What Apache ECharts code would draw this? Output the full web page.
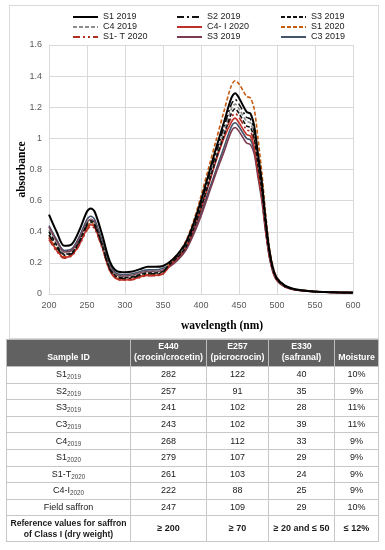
<!DOCTYPE html>
<html>
<head>
<meta charset="utf-8">
<script src="https://cdn.jsdelivr.net/npm/echarts@6/dist/echarts.min.js"></script>
<style>
  html, body { margin: 0; padding: 0; background: #fff; }
  body { width: 385px; height: 550px; position: relative; overflow: hidden; font-family: "Liberation Sans", Arial, sans-serif; }
  #chart { position: absolute; left: 0; top: 0; width: 385px; height: 340px; }
  #frame { position: absolute; left: 9px; top: 5px; width: 370px; height: 334px; border: 1px solid #d9d9d9; box-sizing: border-box; pointer-events: none; }
  table { position: absolute; left: 6px; top: 339px; width: 372px; border-collapse: collapse; table-layout: fixed; font-size: 9px; color: #1a1a1a; }
  td, th { border: 1px solid #c8c8c8; text-align: center; padding: 0; line-height: 11px; white-space: nowrap; overflow: visible; }
  th { background: #616161; color: #fff; font-weight: bold; font-size: 8.8px; height: 23px; vertical-align: bottom; padding-bottom: 3px; border-color: #bdbdbd; }
  td { height: 15.6px; }
  tr.ref td { font-weight: bold; height: 25px; }
  tr.ref td:first-child { font-size: 8.6px; }
  sub { font-size: 6.3px; vertical-align: -2px; color: #444; line-height: 0; }
</style>
</head>
<body>
<div id="chart"></div>
<div id="frame"></div>

<script>
// ---- data ----
const wavelengths = [200,210,220,230,240,250,255,260,270,280,290,300,310,320,330,340,350,
  360,370,380,390,400,410,420,430,440,445,450,460,465,470,475,480,485,490,495,500,510,520,530,550,575,600];

const S1_2019 = [.51,.40,.31,.32,.41,.53,.55,.53,.38,.21,.145,.14,.145,.16,.175,.175,.18,
  .21,.26,.33,.45,.60,.77,.94,1.10,1.26,1.29,1.26,1.17,1.16,1.08,.90,.72,.48,.28,.16,.10,.055,.035,.026,.016,.011,.009];
const S2_2019 = [.38,.30,.25,.26,.335,.44,.46,.44,.31,.16,.105,.10,.105,.12,.13,.13,.14,
  .205,.25,.32,.435,.58,.745,.91,1.07,1.22,1.25,1.22,1.135,1.125,1.045,.87,.70,.465,.27,.155,.097,.053,.034,.025,.016,.011,.009];
const S3_2019 = [.40,.315,.255,.265,.34,.45,.47,.45,.315,.165,.11,.105,.11,.125,.135,.135,.145,
  .195,.24,.30,.415,.555,.71,.87,1.015,1.16,1.19,1.16,1.08,1.07,1.00,.83,.665,.44,.26,.148,.092,.05,.032,.024,.015,.01,.008];
const C4_2019 = [.41,.325,.26,.27,.345,.455,.475,.455,.32,.17,.115,.11,.115,.13,.14,.14,.15,
  .20,.245,.31,.425,.57,.73,.89,1.04,1.19,1.22,1.19,1.11,1.10,1.02,.85,.68,.45,.265,.15,.095,.052,.033,.025,.015,.011,.009];
const C4I_2020 = [.36,.28,.235,.25,.32,.42,.445,.43,.30,.15,.095,.09,.095,.11,.12,.12,.13,
  .19,.235,.30,.41,.545,.70,.86,1.00,1.105,1.13,1.10,1.025,1.015,.945,.79,.63,.42,.245,.14,.088,.048,.031,.023,.014,.01,.008];
const S1_2020 = [.37,.29,.24,.255,.33,.43,.455,.44,.31,.16,.10,.095,.10,.115,.125,.125,.135,
  .21,.26,.34,.465,.63,.81,.99,1.17,1.34,1.37,1.35,1.27,1.26,1.19,1.00,.78,.52,.30,.17,.105,.057,.036,.027,.017,.012,.01];
const S1T_2020 = [.35,.275,.23,.245,.315,.41,.435,.42,.295,.15,.095,.088,.092,.107,.118,.118,.128,
  .19,.235,.30,.415,.555,.71,.87,1.02,1.135,1.16,1.135,1.055,1.045,.97,.81,.65,.43,.25,.145,.09,.05,.032,.024,.015,.01,.008];
const S3b_2019 = [.43,.34,.27,.28,.355,.46,.48,.46,.32,.175,.12,.115,.12,.135,.145,.145,.155,
  .18,.22,.28,.38,.50,.64,.78,.91,1.045,1.07,1.045,.97,.96,.90,.75,.60,.40,.235,.135,.085,.046,.03,.022,.014,.01,.008];
const C3_2019 = [.44,.35,.28,.29,.37,.48,.50,.48,.34,.19,.13,.125,.13,.145,.155,.155,.165,
  .19,.23,.29,.39,.52,.66,.80,.94,1.075,1.10,1.075,1.00,.99,.92,.77,.62,.41,.24,.14,.088,.048,.031,.023,.014,.01,.008];

const yTicks = { min: 0, max: 1.6, step: 0.2 };
const xTicks = { min: 200, max: 600, step: 50 };

// table data
const tableHeader = ['Sample ID', 'E440<br>(crocin/crocetin)', 'E257<br>(picrocrocin)', 'E330<br>(safranal)', 'Moisture'];
const sampleIds = ['S1<sub>2019</sub>','S2<sub>2019</sub>','S3<sub>2019</sub>','C3<sub>2019</sub>','C4<sub>2019</sub>','S1<sub>2020</sub>','S1-T<sub>2020</sub>','C4-I<sub>2020</sub>','Field saffron'];
const e440 = [282,257,241,243,268,279,261,222,247];
const e257 = [122,91,102,102,112,107,103,88,109];
const e330 = [40,35,28,39,33,29,24,25,29];
const moisture = ['10%','9%','11%','11%','9%','9%','9%','9%','10%'];
const refRow = ['Reference values for saffron<br>of Class I (dry weight)', '≥ 200', '≥ 70', '≥ 20 and ≤ 50', '≤ 12%'];

// ---- chart ----
function pairs(vals) { return wavelengths.map((w, i) => [w, vals[i]]); }

const seriesDefs = [
  { name: 'C3 2019', data: C3_2019, color: '#44546a', type: 'solid', width: 1.6 },
  { name: 'S3 2019 ', data: S3b_2019, color: '#7a3b50', type: 'solid', width: 1.6 },
  { name: 'S1- T 2020', data: S1T_2020, color: '#b03020', type: [7,3,2,3,2,3], width: 1.6 },
  { name: 'S1 2020', data: S1_2020, color: '#c55a11', type: [4,2], width: 1.6 },
  { name: 'C4- I 2020', data: C4I_2020, color: '#c0302a', type: 'solid', width: 1.6 },
  { name: 'C4 2019', data: C4_2019, color: '#8c8c8c', type: [4,2], width: 1.6 },
  { name: 'S3 2019', data: S3_2019, color: '#111111', type: [4,2], width: 1.6 },
  { name: 'S2 2019', data: S2_2019, color: '#111111', type: [7,3,2,3], width: 1.6 },
  { name: 'S1 2019', data: S1_2019, color: '#000000', type: 'solid', width: 2 }
];

const legendBase = {
  orient: 'vertical', top: 7, itemWidth: 25, itemHeight: 8, itemGap: 0,
  selectedMode: false,
  itemStyle: { opacity: 0, borderWidth: 0 },
  formatter: n => n.trim(),
  textStyle: { fontSize: 9, lineHeight: 10, color: '#222', fontFamily: 'Liberation Sans, Arial, sans-serif' }
};

const chart = echarts.init(document.getElementById('chart'), null, { renderer: 'canvas' });
chart.setOption({
  animation: false,
  backgroundColor: 'transparent',
  legend: [
    Object.assign({}, legendBase, { left: 67, data: ['S1 2019', 'C4 2019', 'S1- T 2020'] }),
    Object.assign({}, legendBase, { left: 171, data: ['S2 2019', 'C4- I 2020', 'S3 2019 '] }),
    Object.assign({}, legendBase, { left: 275, data: ['S3 2019', 'S1 2020', 'C3 2019'] })
  ],
  grid: { left: 49, right: 32, top: 45, height: 249, containLabel: false, outerBoundsMode: 'none' },
  xAxis: {
    type: 'value', min: xTicks.min, max: xTicks.max, interval: xTicks.step,
    name: 'wavelength (nm)', nameLocation: 'middle', nameGap: 26, nameMoveOverlap: false,
    nameTextStyle: { fontFamily: 'Liberation Serif, Times New Roman, serif', fontWeight: 'bold', fontSize: 11.5, color: '#000', padding: [0, 0, 0, 42] },
    axisLine: { show: true, lineStyle: { color: '#d9d9d9' } },
    axisTick: { show: false },
    splitLine: { show: true, lineStyle: { color: '#d9d9d9' } },
    axisLabel: { fontSize: 9, color: '#595959', margin: 7.5 }
  },
  yAxis: {
    type: 'value', min: yTicks.min, max: yTicks.max, interval: yTicks.step,
    name: 'absorbance', nameLocation: 'middle', nameGap: 21, nameMoveOverlap: false,
    nameTextStyle: { fontFamily: 'Liberation Serif, Times New Roman, serif', fontWeight: 'bold', fontSize: 11.5, color: '#000' },
    axisLine: { show: true, lineStyle: { color: '#d9d9d9' } },
    axisTick: { show: false },
    splitLine: { show: true, lineStyle: { color: '#d9d9d9' } },
    axisLabel: { fontSize: 9, color: '#595959', margin: 7 }
  },
  series: seriesDefs.map(d => ({
    name: d.name, type: 'line', data: pairs(d.data),
    smooth: 0.3, symbol: 'none', showSymbol: false,
    color: d.color,
    lineStyle: { color: d.color, width: d.width, type: d.type },
    emphasis: { disabled: true }
  }))
});

// ---- table ----
let html = '<table><colgroup><col style="width:124px"><col style="width:76px"><col style="width:62px"><col style="width:66px"><col style="width:44px"></colgroup>';
html += '<tr>' + tableHeader.map(h => '<th>' + h + '</th>').join('') + '</tr>';
for (let i = 0; i < sampleIds.length; i++) {
  html += '<tr><td>' + sampleIds[i] + '</td><td>' + e440[i] + '</td><td>' + e257[i] + '</td><td>' + e330[i] + '</td><td>' + moisture[i] + '</td></tr>';
}
html += '<tr class="ref">' + refRow.map(c => '<td>' + c + '</td>').join('') + '</tr>';
html += '</table>';
document.body.insertAdjacentHTML('beforeend', html);
</script>
</body>
</html>
